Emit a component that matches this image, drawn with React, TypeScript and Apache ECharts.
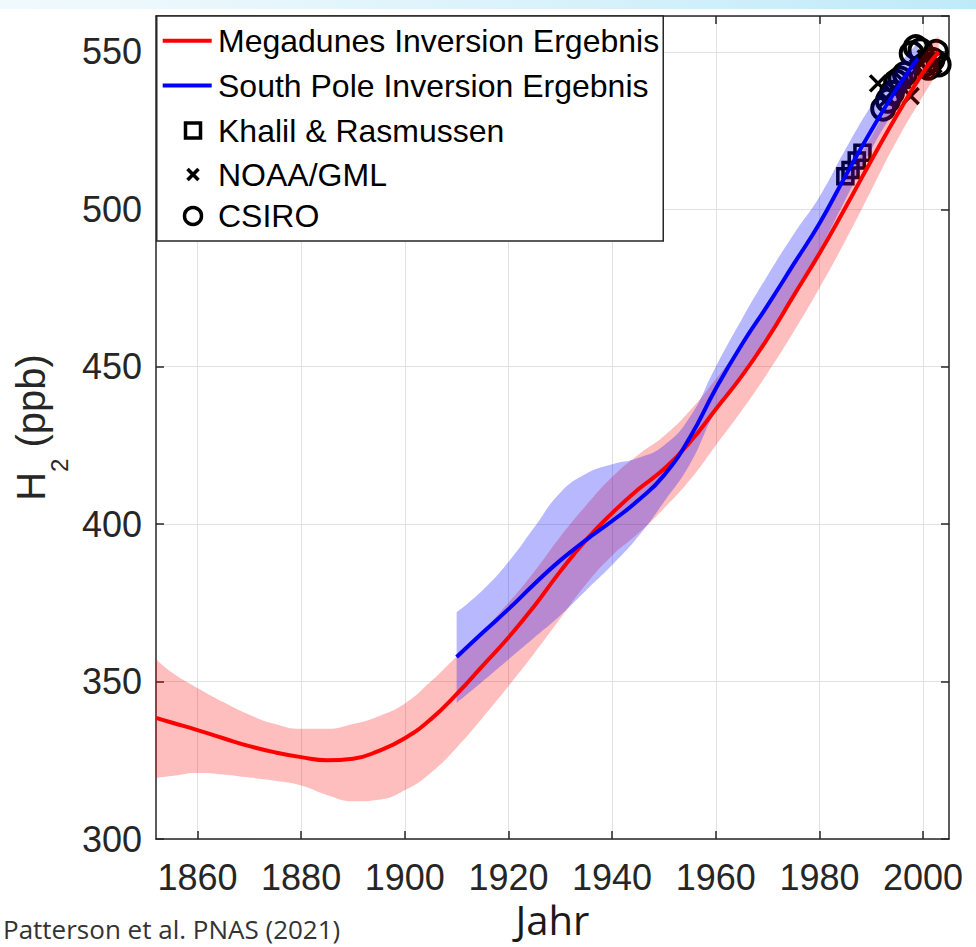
import React, { useEffect, useRef } from "react";
import * as echarts from "echarts";

// ---------- data ----------
const megaYears = [1852, 1855, 1860, 1865, 1870, 1875, 1880, 1885, 1890, 1895, 1900, 1905, 1910, 1915, 1920, 1925, 1930, 1935, 1940, 1945, 1950, 1955, 1960, 1965, 1970, 1975, 1980, 1985, 1990, 1995, 2000, 2003];
const megaH2 = [338.5, 337, 334.6, 332, 329.5, 327.5, 326, 325, 325.5, 328, 332, 338, 346, 355, 364, 374, 385, 395, 403.5, 411, 417.5, 426, 436.5, 447, 459, 472.5, 486, 500.5, 515.5, 530, 543.5, 550];
const megaUpper = [357.2, 353, 348, 343.5, 339.5, 336.5, 335, 335, 336.5, 339, 343, 350, 358, 366, 375, 385, 396, 406, 415, 422, 428, 436, 446, 457, 469, 482, 495, 509, 523, 537, 549, 555];
const megaLower = [319.4, 320, 321, 320.5, 319.5, 318.5, 317, 314, 312, 312.5, 315.5, 321, 329, 338.5, 348.5, 359, 370, 381, 390, 397, 405, 414, 425, 436, 448, 461, 475, 490, 506, 522, 536, 544];

const southYears = [1910, 1915, 1920, 1925, 1930, 1935, 1940, 1945, 1950, 1955, 1960, 1965, 1970, 1975, 1980, 1985, 1990, 1995, 1999];
const southH2 = [357.8, 365.5, 373, 381, 388.5, 395, 401, 407.5, 415.5, 427.5, 443, 457, 469.5, 482.5, 495.5, 510.5, 525, 538.5, 548];
const southUpper = [372, 379, 388, 399, 410, 416, 419, 421, 425, 434, 450, 465, 479, 492, 504, 519, 533, 545, 553];
const southLower = [343.2, 350, 357, 364, 371, 379, 387, 396, 407, 419, 436, 448, 460, 473, 487, 503, 519, 533, 544];

const khalilYears = [1985.0, 1986.0, 1987.2, 1988.3];
const khalilH2 = [510.5, 512.5, 515.5, 518];

const noaaYears = [1991.3, 1993.0, 1994.5, 1996.0, 1997.6, 1999.0, 2000.5, 2002.0];
const noaaH2 = [540, 535, 538, 541, 536, 545, 548, 546];

const csiroYears = [1992.3, 1993.2, 1994.0, 1994.8, 1995.6, 1996.5, 1997.8, 1998.6, 1999.5, 2000.3, 2001.0, 2001.8, 2002.5, 2003.0];
const csiroH2 = [532, 534.5, 537, 540.5, 541.5, 543, 549.5, 551.5, 550.5, 546, 545, 547.5, 550, 546];

const xTicks = [1860, 1880, 1900, 1920, 1940, 1960, 1980, 2000];

const seriesNames = [
  "Megadunes Inversion Ergebnis",
  "South Pole Inversion Ergebnis",
  "Khalil & Rasmussen",
  "NOAA/GML",
  "CSIRO",
];

const xLabel = "Jahr";
const citation = "Patterson et al. PNAS (2021)";

// ---------- styling ----------
const AXIS = "#262626";
const FONT = "'Liberation Sans', Arial, Helvetica, sans-serif";
const FONT2 = "'Open Sans', 'Noto Sans', sans-serif";
const RED = "#ff0000";
const BLUE = "#0000ff";
const SMOOTH = 0.5;
const CROSS = "path://M0,0L10,10M10,0L0,10";

const pairs = (xs: number[], ys: number[]) => xs.map((x, i) => [x, ys[i]]);
// band rows are [value, year] so that the stacked dimension is the value (y) one
const lowRows = (xs: number[], lo: number[]) => xs.map((x, i) => [lo[i], x]);
const widthRows = (xs: number[], hi: number[], lo: number[]) => xs.map((x, i) => [hi[i] - lo[i], x]);

function buildOption(): any {
  const axisLine = { show: true, onZero: false, lineStyle: { color: AXIS, width: 1.5 } };
  const axisTickX = { show: true, inside: true, length: 8, customValues: xTicks, lineStyle: { color: AXIS, width: 1.5 } };
  const axisTickY = { show: true, inside: true, length: 8, lineStyle: { color: AXIS, width: 1.5 } };
  const split = { show: true, lineStyle: { color: "#e1e1e1", width: 1 } };

  const legX = 156.75;
  const legY = 16;
  const rowY = [40.7, 85.5, 130.5, 174.5, 216];
  const legendText = (i: number) => ({
    type: "text",
    x: 218,
    y: rowY[i],
    z: 101,
    style: {
      text: seriesNames[i],
      fontSize: 32,
      fontFamily: FONT,
      fill: "#000",
      verticalAlign: "middle",
      align: "left",
    },
  });

  const bandBase = {
    type: "line",
    symbol: "none",
    smooth: SMOOTH,
    silent: true,
    encode: { x: 1, y: 0 },
    lineStyle: { opacity: 0, width: 0 },
  };

  return {
    animation: false,
    backgroundColor: "#ffffff",
    grid: { left: 156, top: 16, right: 27, bottom: 108, containLabel: false, outerBoundsMode: "none" },
    xAxis: [
      {
        type: "value",
        min: 1852,
        max: 2005,
        position: "bottom",
        axisLine,
        axisTick: axisTickX,
        splitLine: split,
        axisLabel: {
          show: true,
          customValues: xTicks,
          formatter: (v: number) => String(v),
          margin: 20,
          fontSize: 36,
          fontFamily: FONT,
          color: AXIS,
        },
        name: xLabel,
        nameLocation: "middle",
        nameGap: 56,
        nameTextStyle: { fontSize: 40, fontFamily: FONT2, color: "#1a1a1a" },
      },
      {
        type: "value",
        min: 1852,
        max: 2005,
        position: "top",
        axisLine,
        axisTick: axisTickX,
        splitLine: { show: false },
        axisLabel: { show: false },
      },
    ],
    yAxis: [
      {
        type: "value",
        min: 300,
        max: 561.4,
        interval: 50,
        position: "left",
        axisLine,
        axisTick: axisTickY,
        splitLine: split,
        axisLabel: {
          show: true,
          margin: 14,
          fontSize: 36,
          fontFamily: FONT,
          color: AXIS,
          showMaxLabel: false,
        },
        name: "{a|H}{s|2}{a| (ppb)}",
        nameLocation: "middle",
        nameRotate: 90,
        nameGap: 85,
        nameTextStyle: {
          color: AXIS,
          fontFamily: FONT,
          rich: {
            a: { fontSize: 40, lineHeight: 80, fontFamily: FONT, color: AXIS },
            s: { fontSize: 24, lineHeight: 24, verticalAlign: "bottom", fontFamily: FONT, color: AXIS },
          },
        },
      },
      {
        type: "value",
        min: 300,
        max: 561.4,
        interval: 50,
        position: "right",
        axisLine,
        axisTick: axisTickY,
        splitLine: { show: false },
        axisLabel: { show: false },
      },
    ],
    series: [
      { ...bandBase, data: lowRows(megaYears, megaLower), stack: "mega" },
      {
        ...bandBase,
        data: widthRows(megaYears, megaUpper, megaLower),
        stack: "mega",
        areaStyle: { color: "rgba(255,0,0,0.255)", opacity: 1 },
      },
      {
        name: seriesNames[0],
        type: "line",
        data: pairs(megaYears, megaH2),
        symbol: "none",
        smooth: SMOOTH,
        lineStyle: { color: RED, width: 4 },
      },
      { ...bandBase, data: lowRows(southYears, southLower), stack: "south" },
      {
        ...bandBase,
        data: widthRows(southYears, southUpper, southLower),
        stack: "south",
        areaStyle: { color: "rgba(0,0,255,0.28)", opacity: 1 },
      },
      {
        name: seriesNames[1],
        type: "line",
        data: pairs(southYears, southH2),
        symbol: "none",
        smooth: SMOOTH,
        lineStyle: { color: BLUE, width: 4 },
      },
      {
        name: seriesNames[2],
        type: "scatter",
        data: pairs(khalilYears, khalilH2),
        symbol: "rect",
        symbolSize: 15,
        itemStyle: { color: "rgba(0,0,0,0)", borderColor: "#000", borderWidth: 3.5, opacity: 1 },
      },
      {
        name: seriesNames[3],
        type: "scatter",
        data: pairs(noaaYears, noaaH2),
        symbol: CROSS,
        symbolSize: 16,
        itemStyle: { color: "rgba(0,0,0,0)", borderColor: "#000", borderWidth: 3.5, opacity: 1 },
      },
      {
        name: seriesNames[4],
        type: "scatter",
        data: pairs(csiroYears, csiroH2),
        symbol: "circle",
        symbolSize: 22,
        itemStyle: { color: "rgba(0,0,0,0)", borderColor: "#000", borderWidth: 4, opacity: 1 },
      },
    ],
    graphic: {
      elements: [
        {
          type: "rect",
          z: 100,
          shape: { x: 0, y: 0, width: 976, height: 9 },
          style: {
            fill: new echarts.graphic.LinearGradient(0, 0, 1, 0, [
              { offset: 0, color: "rgba(215,240,250,0.35)" },
              { offset: 1, color: "rgba(190,234,248,1)" },
            ]),
          },
        },
        {
          type: "rect",
          z: 100,
          shape: { x: legX, y: legY, width: 506.5, height: 225 },
          style: { fill: "#ffffff", stroke: AXIS, lineWidth: 1.5 },
        },
        {
          type: "line",
          z: 101,
          shape: { x1: 162.7, y1: rowY[0], x2: 211.7, y2: rowY[0] },
          style: { stroke: RED, lineWidth: 4 },
        },
        legendText(0),
        {
          type: "line",
          z: 101,
          shape: { x1: 162.7, y1: rowY[1], x2: 211.7, y2: rowY[1] },
          style: { stroke: BLUE, lineWidth: 4 },
        },
        legendText(1),
        {
          type: "rect",
          z: 101,
          shape: { x: 193 - 7.5, y: rowY[2] - 7.5, width: 15, height: 15 },
          style: { fill: "none", stroke: "#000", lineWidth: 3.5 },
        },
        legendText(2),
        {
          type: "line",
          z: 101,
          shape: { x1: 187.5, y1: rowY[3] - 5.5, x2: 198.5, y2: rowY[3] + 5.5 },
          style: { stroke: "#000", lineWidth: 3.5 },
        },
        {
          type: "line",
          z: 101,
          shape: { x1: 198.5, y1: rowY[3] - 5.5, x2: 187.5, y2: rowY[3] + 5.5 },
          style: { stroke: "#000", lineWidth: 3.5 },
        },
        legendText(3),
        {
          type: "circle",
          z: 101,
          shape: { cx: 193, cy: rowY[4], r: 8.5 },
          style: { fill: "none", stroke: "#000", lineWidth: 3.5 },
        },
        legendText(4),
        {
          type: "text",
          x: 3,
          y: 929,
          z: 101,
          style: {
            text: citation,
            fontSize: 26,
            fontFamily: FONT2,
            fill: "#333333",
            verticalAlign: "middle",
            align: "left",
          },
        },
      ],
    },
  };
}

export default function App() {
  const ref = useRef<HTMLDivElement>(null);
  useEffect(() => {
    if (!ref.current) return;
    const chart = echarts.init(ref.current, null, { renderer: "svg" });
    chart.setOption(buildOption());
    return () => {
      chart.dispose();
    };
  }, []);
  return (
    <div
      ref={ref}
      style={{ position: "absolute", left: 0, top: 0, width: 976, height: 947, background: "#fff" }}
    />
  );
}
